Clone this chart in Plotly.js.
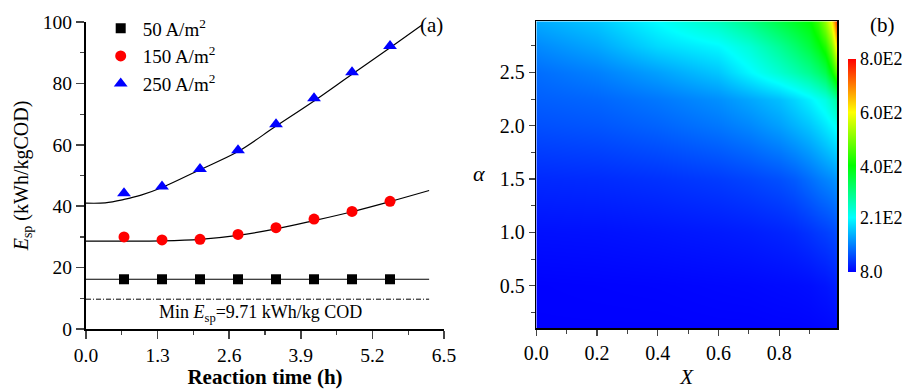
<!DOCTYPE html>
<html>
<head>
<meta charset="utf-8">
<script src="https://cdn.plot.ly/plotly-3.0.1.min.js"></script>
<style>body{margin:0;padding:0;background:#fff}#chart{width:902px;height:389px}</style>
</head>
<body>
<div id="chart"></div>
<script>
// ---- Panel (a) data ----
const timeH = [0.69, 1.38, 2.07, 2.76, 3.45, 4.14, 4.83, 5.52];
const esp50 = [16.2, 16.2, 16.2, 16.2, 16.2, 16.2, 16.2, 16.2];
const esp150 = [30.0, 29.0, 29.2, 30.8, 33.0, 35.8, 38.3, 41.6];
const esp250 = [44.2, 46.4, 52.1, 58.2, 66.7, 75.2, 83.6, 92.2];

const fit50X = [0, 6.23];
const fit50Y = [16.2, 16.2];
const fit150X = [0, 0.69, 1.38, 2.07, 2.76, 3.45, 4.14, 4.83, 5.52, 6.23];
const fit150Y = [28.6, 28.6, 28.7, 29.2, 30.5, 32.6, 35.3, 38.2, 41.5, 45.1];
const fit250X = [0, 0.35, 0.69, 1.0, 1.38, 2.07, 2.76, 3.45, 4.14, 4.83, 5.52, 6.1];
const fit250Y = [41.0, 41.1, 42.2, 43.6, 46.1, 51.9, 57.8, 66.1, 74.3, 83.0, 91.6, 99.0];
const minX = [0, 6.23];
const minY = [9.71, 9.71];

const seriesNames = ['50 A/m<sup>2</sup>', '150 A/m<sup>2</sup>', '250 A/m<sup>2</sup>'];
const xTicksA = [0.0, 1.3, 2.6, 3.9, 5.2, 6.5];
const xTickTextA = ['0.0', '1.3', '2.6', '3.9', '5.2', '6.5'];

// ---- Panel (b) data: Esp over conversion X and alpha ----
const convX = [0, 0.2, 0.4, 0.6, 0.7, 0.8, 0.85, 0.9, 0.93, 0.95, 0.97, 0.98, 0.99];
const alphaY = [0.1, 0.5, 1.0, 1.5, 2.0, 2.25, 2.5, 2.75, 2.98];
const espRow010 = [8, 8, 8, 9, 9, 10, 10, 11, 12, 13, 14, 15, 16];
const espRow050 = [9, 10, 11, 13, 14, 16, 17, 19, 22, 24, 28, 31, 35];
const espRow100 = [20, 21, 24, 28, 31, 36, 40, 48, 54, 58, 63, 67, 72];
const espRow150 = [40, 42, 47, 55, 62, 71, 80, 95, 105, 112, 118, 123, 128];
const espRow200 = [71, 76, 87, 103, 116, 135, 150, 166, 180, 193, 205, 212, 222];
const espRow225 = [83, 89, 103, 122, 140, 160, 178, 200, 218, 232, 255, 270, 290];
const espRow250 = [95, 110, 135, 166, 205, 245, 268, 295, 320, 345, 400, 440, 490];
const espRow275 = [117, 140, 180, 205, 240, 290, 320, 355, 390, 430, 500, 560, 640];
const espRow298 = [143, 166, 210, 259, 300, 350, 375, 400, 450, 520, 600, 680, 790];
const cbTickVals = [8, 210, 400, 600, 800];
const cbTickText = ['8.0', '2.1E2', '4.0E2', '6.0E2', '8.0E2'];

const serif = 'Liberation Serif, Times New Roman, serif';

const traces = [
  {x: fit50X, y: fit50Y, type: 'scatter', mode: 'lines', line: {color: '#000', width: 1.2}, showlegend: false, hoverinfo: 'skip', xaxis: 'x', yaxis: 'y'},
  {x: fit150X, y: fit150Y, type: 'scatter', mode: 'lines', line: {color: '#000', width: 1.2, shape: 'spline'}, showlegend: false, hoverinfo: 'skip', xaxis: 'x', yaxis: 'y'},
  {x: fit250X, y: fit250Y, type: 'scatter', mode: 'lines', line: {color: '#000', width: 1.2, shape: 'spline'}, showlegend: false, hoverinfo: 'skip', xaxis: 'x', yaxis: 'y'},
  {x: minX, y: minY, type: 'scatter', mode: 'lines', line: {color: '#000', width: 1, dash: '5px,2px,1px,2px'}, showlegend: false, hoverinfo: 'skip', xaxis: 'x', yaxis: 'y'},
  {x: timeH, y: esp50, name: seriesNames[0], type: 'scatter', mode: 'markers', marker: {symbol: 'square', size: 10, color: '#000'}, xaxis: 'x', yaxis: 'y'},
  {x: timeH, y: esp150, name: seriesNames[1], type: 'scatter', mode: 'markers', marker: {symbol: 'circle', size: 11, color: '#ff0000'}, xaxis: 'x', yaxis: 'y'},
  {x: timeH, y: esp250, name: seriesNames[2], type: 'scatter', mode: 'markers', marker: {symbol: 'triangle-up', size: 12, color: '#0000ff'}, xaxis: 'x', yaxis: 'y'},
  {
    type: 'heatmap', x: convX, y: alphaY,
    z: [espRow010, espRow050, espRow100, espRow150, espRow200, espRow225, espRow250, espRow275, espRow298],
    zmin: 8, zmax: 800, zsmooth: 'best', xaxis: 'x2', yaxis: 'y2', showlegend: false,
    colorscale: [[0, 'rgb(0,0,255)'], [0.255, 'rgb(0,255,255)'], [0.5, 'rgb(0,255,0)'], [0.75, 'rgb(255,255,0)'], [1, 'rgb(255,0,0)']],
    colorbar: {
      x: 848 / 902, xanchor: 'left', xpad: 0, ypad: 0,
      y: 1 - 165.5 / 389, yanchor: 'middle', len: 213, lenmode: 'pixels',
      thickness: 8, outlinewidth: 0, ticks: '', ticklen: 0,
      tickmode: 'array', tickvals: cbTickVals, ticktext: cbTickText,
      tickfont: {family: serif, size: 18, color: '#000'}
    }
  }
];

const layout = {
  width: 902, height: 389,
  margin: {l: 0, r: 0, t: 0, b: 0},
  paper_bgcolor: '#fff', plot_bgcolor: '#fff',
  font: {family: serif, color: '#000', size: 18},
  showlegend: true,
  legend: {x: 98.7 / 902, y: 0.976, xanchor: 'left', yanchor: 'top', itemwidth: 34, bgcolor: 'rgba(0,0,0,0)', font: {family: serif, size: 19}, tracegroupgap: 0},
  xaxis: {
    domain: [86 / 902, 444 / 902], anchor: 'y', range: [0, 6.5],
    tickmode: 'array', tickvals: xTicksA, ticktext: xTickTextA,
    ticks: 'outside', ticklen: 8, tickwidth: 1.5, showline: true, linewidth: 2, linecolor: '#000',
    showgrid: false, zeroline: false, tickfont: {size: 19.5},
    minor: {dtick: 0.65, tick0: 0, ticks: 'outside', ticklen: 4, tickwidth: 1.2, showgrid: false},
    title: {text: '<b>Reaction time (h)</b>', font: {size: 21}, standoff: 6}
  },
  yaxis: {
    domain: [1 - 329 / 389, 1 - 22 / 389], anchor: 'x', range: [0, 100],
    dtick: 20, tick0: 0, ticks: 'outside', ticklen: 8, tickwidth: 1.5,
    showline: true, linewidth: 2, linecolor: '#000', showgrid: false, zeroline: false, tickfont: {size: 19.5},
    minor: {dtick: 10, tick0: 0, ticks: 'outside', ticklen: 4, tickwidth: 1.2, showgrid: false},
    title: {text: '<i>E</i><sub>sp</sub> (kWh/kgCOD)', font: {size: 20}, standoff: 9}
  },
  xaxis2: {
    domain: [536.3 / 902, 837 / 902], anchor: 'y2', range: [0, 0.99],
    dtick: 0.2, tick0: 0, tickformat: '.1f', ticks: 'outside', ticklen: 6, tickwidth: 1.2,
    showline: true, mirror: true, linewidth: 1.5, linecolor: '#000', showgrid: false, zeroline: false,
    tickfont: {size: 20},
    minor: {dtick: 0.1, tick0: 0, ticks: 'outside', ticklen: 4, tickwidth: 1, showgrid: false},
    title: {text: '<i>X</i>', font: {size: 21}, standoff: 12}
  },
  yaxis2: {
    domain: [1 - 328.3 / 389, 1 - 21.3 / 389], anchor: 'x2', range: [0.1, 2.98],
    dtick: 0.5, tick0: 0, tickformat: '.1f', ticks: 'outside', ticklen: 6, tickwidth: 1.2,
    showline: true, mirror: true, linewidth: 1.5, linecolor: '#000', showgrid: false, zeroline: false,
    tickfont: {size: 20},
    minor: {dtick: 0.25, tick0: 0, ticks: 'outside', ticklen: 4, tickwidth: 1, showgrid: false}
  },
  annotations: [
    {xref: 'x', yref: 'y', x: 3.16, y: 5.0, text: 'Min <i>E</i><sub>sp</sub>=9.71 kWh/kg COD', showarrow: false, font: {size: 18}},
    {xref: 'paper', yref: 'paper', x: 431 / 902, y: 1 - 25 / 389, xanchor: 'center', yanchor: 'middle', text: '(a)', showarrow: false, font: {size: 21}},
    {xref: 'paper', yref: 'paper', x: 882 / 902, y: 1 - 25 / 389, xanchor: 'center', yanchor: 'middle', text: '(b)', showarrow: false, font: {size: 21}},
    {xref: 'paper', yref: 'paper', x: 479 / 902, y: 1 - 173 / 389, xanchor: 'center', yanchor: 'middle', text: '<i>α</i>', showarrow: false, font: {size: 22}}
  ]
};

Plotly.newPlot('chart', traces, layout, {staticPlot: true, displayModeBar: false});
</script>
</body>
</html>
